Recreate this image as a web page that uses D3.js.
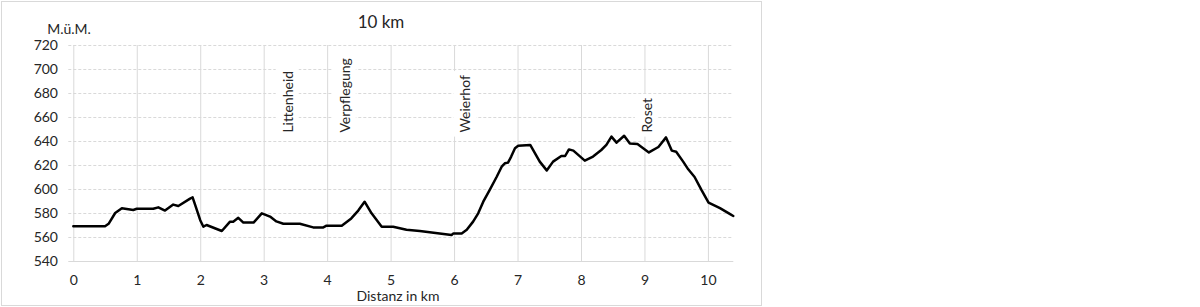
<!DOCTYPE html>
<html>
<head>
<meta charset="utf-8">
<script src="https://cdn.jsdelivr.net/npm/d3@7/dist/d3.min.js"></script>
<style>
  html, body { margin: 0; padding: 0; background: #fff; }
  svg { display: block; }
  text { font-family: Lato, "Open Sans", sans-serif; fill: #262626; }
</style>
</head>
<body>
<svg id="chart" width="1200" height="307"></svg>
<script>
// ---- data ----
const distanceKm = [0, 0.5, 0.556, 0.66, 0.765, 0.945, 1.0, 1.26, 1.34, 1.445, 1.575, 1.655, 1.84, 1.88, 1.92, 2.0, 2.05, 2.1, 2.34, 2.47, 2.52, 2.6, 2.68, 2.84, 2.97, 3.1, 3.2, 3.31, 3.57, 3.78, 3.94, 3.99, 4.23, 4.38, 4.49, 4.59, 4.7, 4.86, 5.04, 5.25, 5.46, 5.96, 5.99, 6.12, 6.2, 6.3, 6.38, 6.46, 6.56, 6.67, 6.75, 6.8, 6.85, 6.9, 6.96, 7.01, 7.2, 7.35, 7.46, 7.56, 7.69, 7.75, 7.81, 7.88, 8.06, 8.19, 8.32, 8.4, 8.48, 8.56, 8.68, 8.77, 8.89, 8.98, 9.07, 9.22, 9.34, 9.43, 9.5, 9.61, 9.69, 9.79, 9.9, 10.01, 10.19, 10.35, 10.4];
const elevation = [569, 569, 571, 580, 584, 582.5, 583.5, 583.5, 584.7, 582, 587, 585.8, 592, 593, 586.7, 574, 568.6, 570, 565, 572.8, 572.8, 576, 572, 572, 579.7, 577, 573, 571, 571, 568, 568, 569.4, 569.4, 575.5, 582, 589.4, 579.7, 568.6, 568.6, 566, 565, 561.7, 563, 563, 566, 572.8, 579.7, 589.4, 599, 610, 618.6, 621.4, 622, 627, 634, 636, 636.7, 622.8, 615.5, 622.8, 627.5, 627.5, 633, 632, 623.6, 627, 632.5, 636.7, 643.6, 638.6, 644.4, 638, 637.5, 634, 630.5, 635, 643, 632, 631, 622.8, 616.4, 610, 599, 588.6, 584, 579, 577.5];
const placeNames = ["Littenheid", "Verpflegung", "Weierhof", "Roset"];
const placeKm = [3.38, 4.28, 6.18, 9.04];
const placeLabelElev = 647;
const yTicks = [540, 560, 580, 600, 620, 640, 660, 680, 700, 720];
const xTicks = [0, 1, 2, 3, 4, 5, 6, 7, 8, 9, 10];
const titleText = "10 km";
const yTitle = "M.ü.M.";
const xTitle = "Distanz in km";

// ---- chart ----
const svg = d3.select("#chart");
svg.append("rect").attr("x", 1.5).attr("y", 1.5).attr("width", 760).attr("height", 304)
  .attr("fill", "#fff").attr("stroke", "#d9d9d9").attr("stroke-width", 1);

const x = d3.scaleLinear().domain([0, 10.4]).range([73.3, 733.3]);
const y = d3.scaleLinear().domain([540, 720]).range([261, 45]);

// horizontal gridlines (dashed) via axis
const gy = svg.append("g").attr("transform", `translate(${x(0)},0)`)
  .call(d3.axisLeft(y).tickValues(yTicks).tickSize(-(x.range()[1] - x.range()[0])).tickFormat(""));
gy.select(".domain").remove();
gy.selectAll(".tick line").attr("stroke", "#d9d9d9").attr("stroke-width", 1)
  .attr("stroke-dasharray", d => d === 540 ? null : "3,2").attr("x1", -5);

// vertical gridlines via axis
const gx = svg.append("g").attr("transform", `translate(0,${y(540)})`)
  .call(d3.axisBottom(x).tickValues(xTicks).tickSize(-(y(540) - y(720))).tickFormat(""));
gx.select(".domain").remove();
gx.selectAll(".tick line").attr("stroke", "#d9d9d9").attr("stroke-width", 1);

// y tick labels
const yl = svg.append("g").attr("transform", `translate(58,0)`)
  .call(d3.axisLeft(y).tickValues(yTicks).tickSize(0).tickPadding(0));
yl.select(".domain").remove();
yl.selectAll("text").attr("font-size", 14).attr("fill", "#262626")
  .style("font-family", "Lato, sans-serif").attr("dy", "0.35em").attr("x", 0).attr("text-anchor", "end");

// x tick labels
const xl = svg.append("g").attr("transform", `translate(0,275)`)
  .call(d3.axisBottom(x).tickValues(xTicks).tickSize(0).tickPadding(0));
xl.select(".domain").remove();
xl.selectAll("text").attr("font-size", 14).attr("fill", "#262626")
  .style("font-family", "Lato, sans-serif").attr("dy", "0.71em").attr("y", 0);

// place labels with white background
const lab = svg.append("g");
placeNames.forEach((name, i) => {
  const g = lab.append("g").attr("transform", `translate(${x(placeKm[i])},${y(placeLabelElev)}) rotate(-90)`);
  const t = g.append("text").attr("x", 0).attr("y", 0).attr("dy", "0.35em")
    .attr("font-size", 14).attr("text-anchor", "start").text(name);
  const bb = t.node().getBBox();
  g.insert("rect", "text").attr("x", bb.x - 4).attr("y", bb.y - 3)
    .attr("width", bb.width + 8).attr("height", bb.height + 6).attr("fill", "#fff");
});

// line
const line = d3.line().x((d, i) => x(distanceKm[i])).y(d => y(d));
svg.append("path").datum(elevation).attr("d", line)
  .attr("fill", "none").attr("stroke", "#000").attr("stroke-width", 2.5)
  .attr("stroke-linejoin", "round").attr("stroke-linecap", "round");

// titles
svg.append("text").attr("x", 381).attr("y", 28).attr("text-anchor", "middle")
  .attr("font-size", 17).text(titleText);
svg.append("text").attr("x", 69).attr("y", 34).attr("text-anchor", "middle")
  .attr("font-size", 14).text(yTitle);
svg.append("text").attr("x", 398).attr("y", 301).attr("text-anchor", "middle")
  .attr("font-size", 14).text(xTitle);
</script>
</body>
</html>
